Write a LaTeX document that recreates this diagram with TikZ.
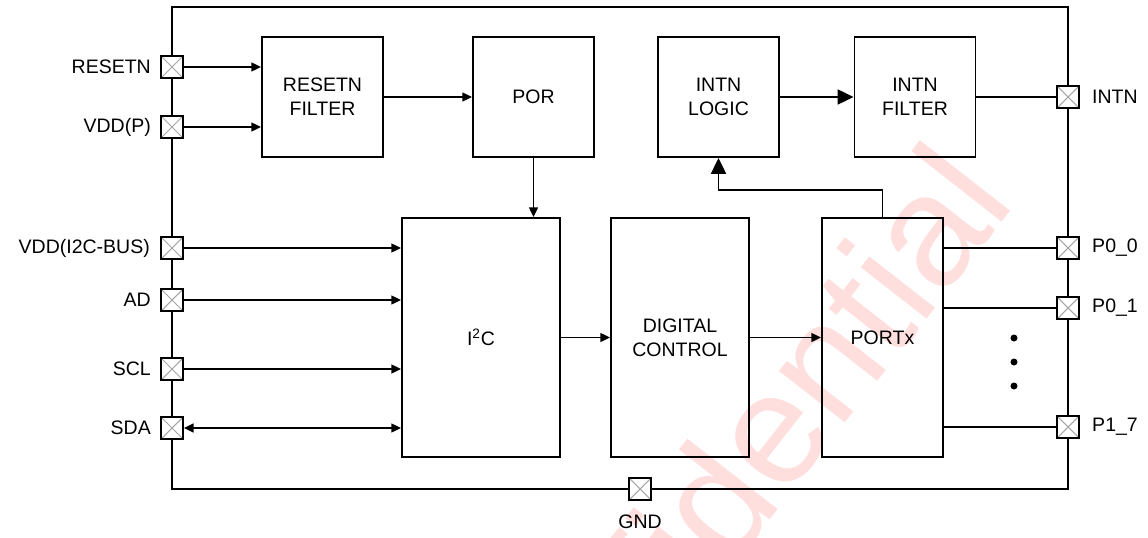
\documentclass[tikz,border=0pt]{standalone}
\usepackage{fontspec}
\setmainfont{Liberation Sans}
\usetikzlibrary{positioning,arrows.meta}

\tikzset{
    block/.style={draw, line width=1.1pt, minimum width=2.42cm, minimum height=2.4cm, align=center, inner sep=0},
    tallblock/.style={block, minimum height=4.78cm},
    pinbox/.style={draw, line width=1pt, fill=white, minimum size=0.44cm, inner sep=0,
        path picture={\draw[gray!70, line width=0.6pt]
            (path picture bounding box.south west) -- (path picture bounding box.north east)
            (path picture bounding box.north west) -- (path picture bounding box.south east);}},
    lbl/.style={inner sep=0},
    tip/.style={Triangle[length=5.5pt,width=5pt]},
    sig/.style={line width=1pt, -{Triangle[length=5.5pt,width=5pt]}},
    bigsig/.style={line width=1pt, -{Triangle[length=9pt,width=8.5pt]}},
    wire/.style={line width=1pt}
}

\begin{document}
\begin{tikzpicture}[x=0.02cm, y=-0.02cm, font=\fontsize{11.1}{13.7}\selectfont]
    \useasboundingbox (0,0) rectangle (1148,537);

    % Watermark
    \begin{scope}
        \clip (0,0) rectangle (1148,537);
        \node[rotate=52, text=red!13, font=\fontsize{90}{90}\selectfont] (wmark) at (716,497) {Confidential};
    \end{scope}

    % Chip outline
    \draw[line width=1pt] (172,7) rectangle (1068,489);

    % Blocks
    \node[block] (rstf) at (322.5,97) {RESETN\\FILTER};
    \node[block] (por) at (533.5,97) {POR};
    \node[block] (ilog) at (718.5,97) {INTN\\LOGIC};
    \node[block] (ifil) at (915,97) {INTN\\FILTER};
    \node[tallblock, minimum width=3.16cm] (i2c) at (481,337.5) {I\textsuperscript{2}C};
    \node[tallblock, minimum width=2.76cm] (dctl) at (680,337.5) {DIGITAL\\CONTROL};
    \node[tallblock] (portx) at (882.5,337.5) {PORTx};

    % Pins on the left
    \node[pinbox] (prst) at (172,67) {};
    \node[pinbox] (pvddp) at (172,127) {};
    \node[pinbox] (pvddi) at (172,248) {};
    \node[pinbox] (pad) at (172,300) {};
    \node[pinbox] (pscl) at (172,369) {};
    \node[pinbox] (psda) at (172,428) {};
    \node[lbl, left=0.18cm of prst] (lrst) {RESETN};
    \node[lbl, left=0.18cm of pvddp] (lvddp) {VDD(P)};
    \node[lbl, left=0.2cm of pvddi] (lvddi) {VDD(I2C-BUS)};
    \node[lbl, left=0.18cm of pad] (lad) {AD};
    \node[lbl, left=0.18cm of pscl] (lscl) {SCL};
    \node[lbl, left=0.18cm of psda] (lsda) {SDA};

    % Pins on the right
    \node[pinbox] (pintn) at (1068,97) {};
    \node[pinbox] (pp00) at (1068,248) {};
    \node[pinbox] (pp01) at (1068,308) {};
    \node[pinbox] (pp17) at (1068,427) {};
    \node[lbl, right=0.24cm of pintn] (lintn) {INTN};
    \node[lbl, right=0.24cm of pp00] (lp00) {P0\_0};
    \node[lbl, right=0.24cm of pp01] (lp01) {P0\_1};
    \node[lbl, right=0.24cm of pp17] (lp17) {P1\_7};

    % Ground pin
    \node[pinbox] (pgnd) at (640,489) {};
    \node[lbl, below=0.28cm of pgnd] (lgnd) {GND};

    % Reset path
    \draw[sig] (prst.east) -- (prst -| rstf.west);
    \draw[sig] (pvddp.east) -- (pvddp -| rstf.west);
    \draw[sig] (rstf.east) -- (por.west);
    \draw[sig] (por.south) -- (por.south |- i2c.north);

    % Interrupt path
    \draw[bigsig] (ilog.east) -- (ifil.west);
    \draw[wire] (ifil.east) -- (pintn.west);
    \draw[bigsig] (portx.north) -- ++(0,-27) -| (ilog.south);

    % Bus inputs
    \draw[sig] (pvddi.east) -- (pvddi -| i2c.west);
    \draw[sig] (pad.east) -- (pad -| i2c.west);
    \draw[sig] (pscl.east) -- (pscl -| i2c.west);
    \draw[line width=1pt, {Triangle[length=5.5pt,width=5pt]}-{Triangle[length=5.5pt,width=5pt]}] (psda.east) -- (psda -| i2c.west);

    % Core chain
    \draw[sig] (i2c.east) -- (dctl.west);
    \draw[sig] (dctl.east) -- (portx.west);

    % Port outputs
    \draw[wire] (portx.east |- pp00) -- (pp00.west);
    \draw[wire] (portx.east |- pp01) -- (pp01.west);
    \draw[wire] (portx.east |- pp17) -- (pp17.west);
    \foreach \y in {338,362,386} {
        \fill (1014,\y) circle (0.07cm);
    }
\end{tikzpicture}
\end{document}
